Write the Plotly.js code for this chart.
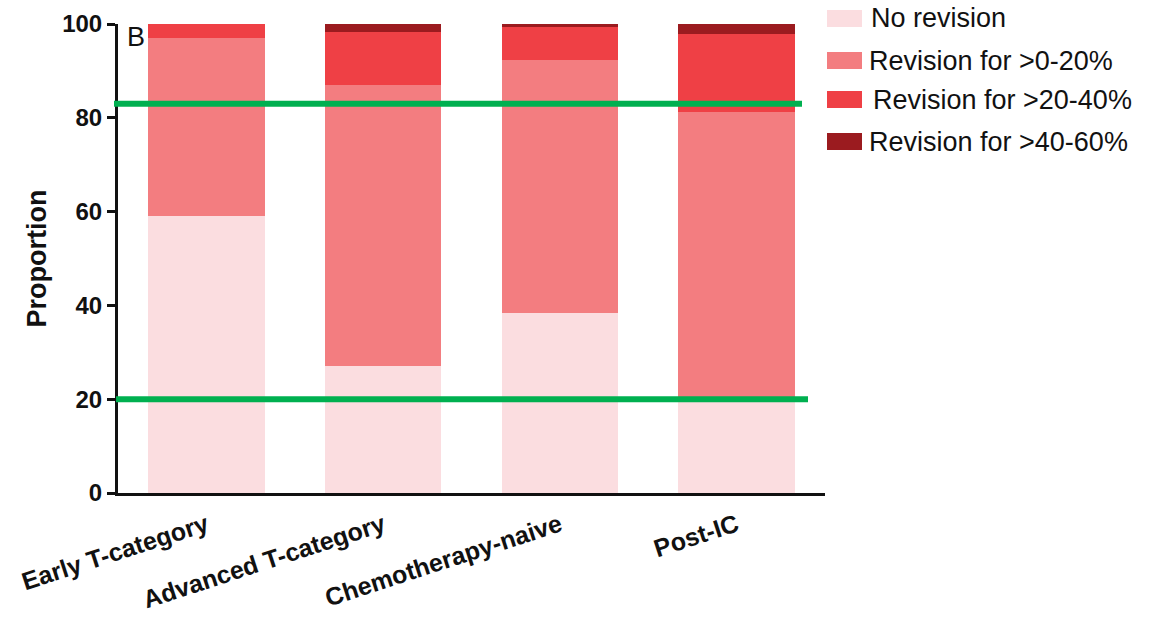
<!DOCTYPE html>
<html>
<head>
<meta charset="utf-8">
<script src="https://cdn.plot.ly/plotly-3.0.1.min.js"></script>
<style>html,body{margin:0;padding:0;background:#fff;}#chart{width:1160px;height:619px;}</style>
</head>
<body>
<div id="chart"></div>
<script>
var categories = ["Early T-category", "Advanced T-category", "Chemotherapy-naive", "Post-IC"];
var seriesNames = ["No revision", "Revision for >0-20%", "Revision for >20-40%", "Revision for >40-60%"];
var noRevision = [59, 27, 38.4, 20];
var rev0to20 = [38, 60, 53.9, 61.3];
var rev20to40 = [3, 11.2, 7.1, 16.6];
var rev40to60 = [0, 1.8, 0.6, 2.1];
var refLines = [83, 20];
var yTicks = [0, 20, 40, 60, 80, 100];

var colors = ["#fbdde0", "#f37d80", "#ef4045", "#9b1b1f"];
var seriesValues = [noRevision, rev0to20, rev20to40, rev40to60];
var FONT = "Liberation Sans, Arial, sans-serif";

var traces = seriesValues.map(function (vals, i) {
  return {
    type: "bar",
    name: seriesNames[i],
    x: categories,
    y: vals,
    marker: { color: colors[i], line: { width: 0 } },
    width: 0.66,
    showlegend: false,
    hoverinfo: "x+y+name"
  };
});

var plotLeft = 118, plotRight = 825, plotTop = 24, plotBottom = 493;
var W = 1160, H = 619;
function px2paperX(px) { return (px - plotLeft) / (plotRight - plotLeft); }
function px2paperY(py) { return (plotBottom - py) / (plotBottom - plotTop); }

var shapes = [];
var annotations = [];
var lineX = [[114, 802], [116, 808]];
refLines.forEach(function (v, i) {
  shapes.push({
    type: "line", xref: "paper", yref: "y",
    x0: px2paperX(lineX[i][0]), x1: px2paperX(lineX[i][1]), y0: v, y1: v,
    line: { color: "#00b050", width: 6 }, layer: "above"
  });
});

// custom legend
var legTops = [10, 52, 91, 133];
var legTextX = [869, 867, 871, 867];
seriesNames.forEach(function (n, i) {
  shapes.push({
    type: "rect", xref: "paper", yref: "paper",
    x0: px2paperX(827), x1: px2paperX(862),
    y0: px2paperY(legTops[i] + 17), y1: px2paperY(legTops[i]),
    fillcolor: colors[i], line: { width: 0 }
  });
  annotations.push({
    xref: "paper", yref: "paper", x: px2paperX(legTextX[i]), y: px2paperY(legTops[i] + 8.5),
    xanchor: "left", yanchor: "middle", text: n, showarrow: false,
    font: { family: FONT, size: 27, color: "#111" }
  });
});

annotations.push({
  xref: "paper", yref: "paper", x: px2paperX(125), y: px2paperY(37),
  xanchor: "left", yanchor: "middle", text: "B", showarrow: false,
  font: { family: FONT, size: 27, color: "#111" }
});

var layout = {
  width: W, height: H,
  margin: { l: plotLeft, r: W - plotRight, t: plotTop, b: H - plotBottom, pad: 0 },
  paper_bgcolor: "#fff", plot_bgcolor: "#fff",
  barmode: "stack",
  xaxis: {
    type: "category",
    range: [-0.5, 3.5],
    showline: true, linecolor: "#111", linewidth: 3,
    ticks: "", showgrid: false, zeroline: false,
    tickangle: -18,
    ticklabelstandoff: 5,
    tickfont: { family: FONT, size: 25, color: "#111", weight: "bold" }
  },
  yaxis: {
    range: [0, 100],
    tickvals: yTicks,
    ticktext: yTicks.map(String),
    showline: true, linecolor: "#111", linewidth: 3,
    ticks: "outside", ticklen: 8, tickwidth: 3, tickcolor: "#111",
    showgrid: false, zeroline: false,
    tickfont: { family: FONT, size: 24, color: "#111", weight: "bold" },
    title: { text: "Proportion", standoff: 8, font: { family: FONT, size: 27, color: "#111", weight: "bold" } }
  },
  shapes: shapes,
  annotations: annotations,
  showlegend: false
};

Plotly.newPlot("chart", traces, layout, { displayModeBar: false, staticPlot: true });
</script>
</body>
</html>
